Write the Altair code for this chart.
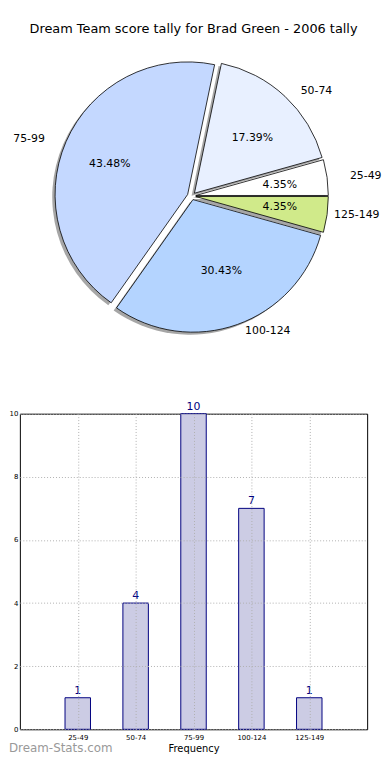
import math
import altair as alt
import pandas as pd

# ---------------- data ----------------
title_text = "Dream Team score tally for Brad Green - 2006 tally"
categories = ["25-49", "50-74", "75-99", "100-124", "125-149"]
counts = [1, 4, 10, 7, 1]
pie_colors = ["#ffffff", "#e8f0ff", "#c4d8ff", "#b4d4ff", "#d0ea8a"]
y_ticks = [0, 2, 4, 6, 8, 10]
x_title = "Frequency"
watermark = "Dream-Stats.com"

# ---------------- layout / style ----------------
FONT = "DejaVu Sans"
PANEL_W = 351
PIE_H = 340
BAR_H = 319
CX, CY = 173.5, 148        # pie centre inside the pie panel
RX, RY = 143, 128          # label ellipse radii
R = 134                    # wedge radius
EXPLODE = 0.03
SHADOW = 0.02
BAR_W = 0.44
EDGE_SHIFT = 16            # keep the right-edge label inside the page

df = pd.DataFrame({
    "cat": categories,
    "count": counts,
    "order": list(range(len(categories))),
    "pos": list(range(1, len(categories) + 1)),
})

pie = alt.Chart(df).transform_window(
    cum="sum(count)", sort=[alt.SortField("order")], frame=[None, 0]
).transform_joinaggregate(
    total="sum(count)"
).transform_calculate(
    f0="(datum.cum - datum.count) / datum.total",
    f1="datum.cum / datum.total",
    mid="PI * (datum.f0 + datum.f1)",
    pct="format(100 * datum.count / datum.total, '.2f') + '%'",
    ox=f"{CX} + {EXPLODE * RX} * cos(datum.mid)",
    oy=f"{CY} - {EXPLODE * RY} * sin(datum.mid)",
    sx=f"datum.ox - {SHADOW * RX}",
    sy=f"datum.oy + {SHADOW * RY}",
    edge="cos(datum.mid) >= 0.9 && sin(datum.mid) < 0",
    lx=f"datum.ox + {1.1 * RX} * cos(datum.mid) - (datum.edge ? {EDGE_SHIFT} : 0)",
    ly=f"datum.oy - {1.1 * RY} * sin(datum.mid)",
    px=f"datum.ox + {0.6 * RX} * cos(datum.mid)",
    py=f"datum.oy - {0.6 * RY} * sin(datum.mid)",
    cosm="cos(datum.mid)",
)

theta_scale = alt.Scale(domain=[0, 1], range=[2.5 * math.pi, 0.5 * math.pi])

shadow = pie.mark_arc(radius=R, color="#4d4d4d", opacity=0.5).encode(
    x=alt.X("sx:Q", scale=None, axis=None),
    y=alt.Y("sy:Q", scale=None, axis=None),
    theta=alt.Theta("f0:Q", scale=theta_scale, stack=None),
    theta2="f1:Q",
)

wedges = pie.mark_arc(radius=R, stroke="black", strokeWidth=0.8).encode(
    x=alt.X("ox:Q", scale=None, axis=None),
    y=alt.Y("oy:Q", scale=None, axis=None),
    theta=alt.Theta("f0:Q", scale=theta_scale, stack=None),
    theta2="f1:Q",
    color=alt.Color("cat:N", scale=alt.Scale(domain=categories, range=pie_colors), legend=None),
)

lab_left = pie.transform_filter("datum.cosm >= 0").mark_text(
    align="left", baseline="middle", font=FONT, fontSize=11, color="black"
).encode(
    x=alt.X("lx:Q", scale=None, axis=None),
    y=alt.Y("ly:Q", scale=None, axis=None),
    text="cat:N",
)

lab_right = pie.transform_filter("datum.cosm < 0").mark_text(
    align="right", baseline="middle", font=FONT, fontSize=11, color="black"
).encode(
    x=alt.X("lx:Q", scale=None, axis=None),
    y=alt.Y("ly:Q", scale=None, axis=None),
    text="cat:N",
)

pcts = pie.mark_text(
    align="center", baseline="middle", font=FONT, fontSize=11, color="black"
).encode(
    x=alt.X("px:Q", scale=None, axis=None),
    y=alt.Y("py:Q", scale=None, axis=None),
    text="pct:N",
)

pie_chart = alt.layer(shadow, wedges, lab_left, lab_right, pcts).properties(
    width=PANEL_W,
    height=PIE_H,
    title=alt.TitleParams(
        text=title_text, font=FONT, fontSize=13, fontWeight="normal",
        anchor="middle", offset=14, color="black",
    ),
)

# ---------------- bar chart ----------------
label_expr = "[" + ",".join(["''"] + [f"'{c}'" for c in categories] + ["''"]) + "][datum.value]"

bar_base = alt.Chart(df).transform_calculate(
    x0=f"datum.pos - {BAR_W / 2}",
    x1=f"datum.pos + {BAR_W / 2}",
)

x_axis = alt.Axis(
    values=[1, 2, 3, 4, 5], labelExpr=label_expr, title=x_title,
    labelFont=FONT, labelFontSize=7, labelColor="black", labelPadding=4,
    titleFont=FONT, titleFontSize=10, titleFontWeight="normal", titleColor="black",
    titlePadding=3, ticks=False, domain=False,
    grid=True, gridColor="#b0b0b0", gridDash=[1, 2], gridWidth=1, zindex=1,
)
y_axis = alt.Axis(
    values=y_ticks, title=None,
    labelFont=FONT, labelFontSize=7, labelColor="black", labelPadding=2,
    ticks=False, domain=False,
    grid=True, gridColor="#b0b0b0", gridDash=[1, 2], gridWidth=1, zindex=1,
)

x_scale = alt.Scale(domain=[0, 6], nice=False, zero=False, padding=0)
y_scale = alt.Scale(domain=[0, 10], nice=False, padding=0)

bars = bar_base.mark_bar(fill="#ccccE4", stroke="#000080", strokeWidth=1).encode(
    x=alt.X("x0:Q", scale=x_scale, axis=x_axis),
    x2="x1:Q",
    y=alt.Y("count:Q", scale=y_scale, axis=y_axis),
    y2=alt.datum(0),
)

bar_text = bar_base.mark_text(
    baseline="bottom", dy=-2, font=FONT, fontSize=11, color="#000080"
).encode(
    x=alt.X("pos:Q", scale=x_scale),
    y=alt.Y("count:Q", scale=y_scale),
    text="count:Q",
)

wm = alt.Chart(pd.DataFrame({"t": [watermark]})).mark_text(
    align="left", baseline="middle", font=FONT, fontSize=12, color="#999999"
).encode(
    x=alt.value(-11),
    y=alt.value(338),
    text="t:N",
)

bar_chart = alt.layer(bars, bar_text, wm).properties(
    width=PANEL_W,
    height=BAR_H,
    view=alt.ViewBackground(stroke="black", strokeWidth=1),
)

chart = alt.vconcat(pie_chart, bar_chart, spacing=28, bounds="flush").properties(
    padding={"left": 0, "top": 11, "right": 0, "bottom": 0},
).configure_view(stroke=None)

chart.save("out.html", embed_options={"renderer": "svg", "actions": False})
